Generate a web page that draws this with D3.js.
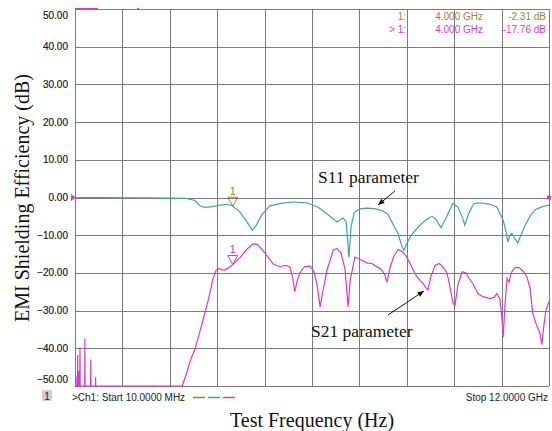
<!DOCTYPE html>
<html>
<head>
<meta charset="utf-8">
<script src="https://cdn.jsdelivr.net/npm/d3@7"></script>
<style>
  body { margin: 0; background: #fff; }
  text { font-family: "Liberation Sans", Arial, sans-serif; }
  .serif { font-family: "Liberation Serif", "Times New Roman", serif; }
</style>
</head>
<body>
<svg width="552" height="431"></svg>
<script>
// frequency in GHz, level in dB
var s11 = [
  [0.01, 0.0], [0.64, 0.0], [1.91, -0.1], [2.79, -0.2], [3.05, -0.8], [3.17, -2.2],
  [3.30, -2.6], [3.48, -2.4], [3.68, -2.0], [3.88, -1.8], [4.00, -2.31], [4.18, -3.8],
  [4.33, -6.0], [4.49, -8.6], [4.59, -7.5], [4.74, -4.5], [4.94, -2.2], [5.25, -1.5],
  [5.52, -1.2], [5.88, -1.4], [6.16, -2.6], [6.46, -5.0], [6.64, -6.5], [6.79, -5.4],
  [6.87, -6.5], [6.94, -16.0], [6.99, -8.0], [7.07, -4.0], [7.22, -3.0], [7.40, -2.8],
  [7.62, -3.0], [7.80, -3.6], [7.93, -4.5], [8.05, -7.0], [8.18, -9.5], [8.28, -13.0],
  [8.33, -14.0], [8.41, -12.0], [8.53, -9.8], [8.74, -7.3], [8.91, -5.8], [9.04, -5.0],
  [9.14, -5.8], [9.27, -8.0], [9.39, -5.5], [9.57, -1.5], [9.70, -2.6], [9.80, -5.0],
  [9.87, -7.3], [9.98, -4.0], [10.10, -1.6], [10.25, -1.4], [10.51, -1.8], [10.68, -2.5],
  [10.84, -6.0], [10.91, -9.0], [10.96, -11.8], [11.01, -10.0], [11.06, -9.5], [11.14, -11.0],
  [11.21, -12.0], [11.29, -10.0], [11.39, -7.5], [11.52, -5.0], [11.64, -3.3], [11.77, -2.7],
  [11.90, -2.2], [12.00, -2.0]
];

var s21 = [
  [0.01, -50], [0.030, -50], [0.035, -47.5], [0.040, -50], [0.073, -50], [0.078, -41.8],
  [0.083, -50], [0.105, -50], [0.11, -46], [0.115, -50], [0.131, -50], [0.136, -39.8],
  [0.141, -50], [0.255, -50], [0.26, -37.5], [0.265, -50], [0.405, -50], [0.41, -43],
  [0.415, -50], [0.525, -50], [0.53, -47.6], [0.535, -50],
  [2.72, -50], [2.82, -47], [2.92, -43.5], [3.05, -40], [3.17, -35.5], [3.30, -30.5],
  [3.42, -25.5], [3.50, -21.5], [3.58, -19.3], [3.65, -18.8], [3.78, -19.3], [3.88, -18.8],
  [4.00, -17.76], [4.18, -16.0], [4.35, -13.8], [4.51, -12.3], [4.63, -12.5], [4.76, -14.0],
  [4.89, -15.8], [5.04, -17.8], [5.19, -18.3], [5.35, -18.0], [5.45, -18.5], [5.52, -21.5],
  [5.57, -25.0], [5.62, -22.5], [5.70, -20.0], [5.82, -18.3], [5.95, -18.2], [6.05, -19.5],
  [6.13, -23.0], [6.21, -29.0], [6.26, -26.0], [6.38, -19.5], [6.54, -14.0], [6.64, -13.5],
  [6.74, -14.8], [6.84, -19.0], [6.92, -29.0], [6.97, -22.0], [7.09, -15.8], [7.24, -16.5],
  [7.40, -17.4], [7.52, -17.5], [7.65, -18.4], [7.75, -19.0], [7.85, -20.5], [7.90, -22.5],
  [7.98, -18.5], [8.08, -15.5], [8.18, -13.8], [8.31, -14.5], [8.38, -15.5], [8.48, -17.4],
  [8.58, -19.5], [8.66, -21.0], [8.74, -22.0], [8.81, -22.8], [8.89, -24.0], [8.94, -24.5],
  [9.01, -21.0], [9.12, -18.0], [9.22, -17.5], [9.32, -18.5], [9.42, -20.0], [9.50, -24.0],
  [9.57, -28.0], [9.62, -28.7], [9.70, -23.0], [9.80, -19.7], [9.90, -20.0], [9.98, -21.5],
  [10.08, -23.0], [10.20, -25.5], [10.33, -26.3], [10.51, -26.8], [10.61, -26.5], [10.68, -25.5],
  [10.76, -27.0], [10.81, -32.0], [10.84, -37.0], [10.89, -28.0], [10.94, -21.4], [10.99, -22.5],
  [11.04, -20.0], [11.14, -18.6], [11.24, -18.6], [11.34, -19.5], [11.44, -21.0], [11.52, -24.0],
  [11.59, -30.9], [11.69, -34.0], [11.77, -36.0], [11.82, -39.0], [11.87, -34.0], [11.92, -30.0],
  [12.00, -27.6]
];

// bits of the S21 trace clipped at the top of the screen
var s21Clipped = [[[0.01, 50], [0.59, 50]], [[1.58, 50], [1.63, 50]]];

var markerFreq = 4.0;
var markerRows = [
  {label: "1:", freq: "4.000 GHz", value: "-2.31 dB", level: -2.31},
  {label: "> 1:", freq: "4.000 GHz", value: "-17.76 dB", level: -17.76}
];
var startLabel = ">Ch1: Start  10.0000 MHz";
var stopLabel = "Stop  12.0000 GHz";

var teal = "#3fa899", magenta = "#d83acb", olive = "#9c8433", grid = "#7a7a7a";

var svg = d3.select("svg");

var x = d3.scaleLinear().domain([0.01, 12]).range([75, 549]),
    y = d3.scaleLinear().domain([-50, 50]).range([386, 9]);

var g = svg.append("g");

// grid
var xGrid = d3.range(11).map(function(k) { return 0.01 + k * (12 - 0.01) / 10; });
g.selectAll(".vg").data(xGrid).enter().append("line")
    .attr("x1", function(d) { return Math.round(x(d)) + 0.5; })
    .attr("x2", function(d) { return Math.round(x(d)) + 0.5; })
    .attr("y1", y(50)).attr("y2", y(-50))
    .style("stroke", grid).style("stroke-width", 1);

var yTicks = y.ticks(10);
g.selectAll(".hg").data(yTicks).enter().append("line")
    .attr("x1", x(0.01)).attr("x2", x(12))
    .attr("y1", function(d) { return Math.round(y(d)) + 0.5; })
    .attr("y2", function(d) { return Math.round(y(d)) + 0.5; })
    .style("stroke", grid).style("stroke-width", 1);

// y tick labels
g.selectAll(".yl").data(yTicks).enter().append("text")
    .attr("x", 68)
    .attr("y", function(d) {
      var p = y(d);
      if (d === 50) p += 6;
      if (d === -50) p -= 7;
      return p + 3.5;
    })
    .attr("text-anchor", "end")
    .style("font-size", "10px")
    .style("fill", "#1a1a1a")
    .style("stroke", "#1a1a1a").style("stroke-width", 0.2)
    .text(function(d) { return d3.format(".2f")(d); });

// traces
var line = d3.line()
    .x(function(d) { return x(d[0]); })
    .y(function(d) { return y(d[1]); });

g.append("path").attr("d", line(s11))
    .style("fill", "none").style("stroke", teal).style("stroke-width", 1.2);

g.append("path").attr("d", line(s21))
    .style("fill", "none").style("stroke", magenta).style("stroke-width", 1.2);

s21Clipped.forEach(function(seg) {
  g.append("path").attr("d", line(seg))
      .style("fill", "none").style("stroke", magenta).style("stroke-width", 2);
});

// markers on the traces
function marker(level, color) {
  var mx = x(markerFreq), my = y(level);
  g.append("path")
      .attr("d", "M" + (mx - 5) + "," + (my - 9) + "L" + (mx + 5) + "," + (my - 9) + "L" + mx + "," + my + "Z")
      .style("fill", "none").style("stroke", color).style("stroke-width", 1);
  g.append("text")
      .attr("x", mx).attr("y", my - 11)
      .attr("text-anchor", "middle")
      .style("font-size", "11px").style("fill", color)
      .text("1");
}
marker(markerRows[0].level, olive);
marker(markerRows[1].level, magenta);

// reference level markers
g.append("path")
    .attr("d", "M" + (x(0.01) - 4) + "," + (y(0) - 3.5) + "L" + (x(0.01) + 1) + "," + y(0) + "L" + (x(0.01) - 4) + "," + (y(0) + 3.5) + "Z")
    .style("fill", magenta);
g.append("rect")
    .attr("x", x(12) - 2).attr("y", y(0) - 2).attr("width", 4).attr("height", 4)
    .style("fill", magenta);

// marker readout
var rows = g.selectAll(".row").data(markerRows).enter().append("g")
    .attr("transform", function(d, i) { return "translate(0," + (20 + i * 13) + ")"; })
    .style("font-size", "10px")
    .style("fill", function(d, i) { return i === 0 ? olive : magenta; });
rows.append("text").attr("x", 406).attr("text-anchor", "end").text(function(d) { return d.label; });
rows.append("text").attr("x", 483).attr("text-anchor", "end").text(function(d) { return d.freq; });
rows.append("text").attr("x", 546).attr("text-anchor", "end").text(function(d) { return d.value; });

// bottom status line
svg.append("rect").attr("x", 42).attr("y", 390).attr("width", 10).attr("height", 11).style("fill", "#cfcfcf");
svg.append("text").attr("x", 47).attr("y", 399.5).attr("text-anchor", "middle")
    .style("font-size", "10px").style("fill", "#222").text("1");
svg.append("text").attr("x", 72).attr("y", 401)
    .style("font-size", "10px").style("fill", "#222").text(startLabel);
[olive, teal, magenta].forEach(function(c, i) {
  svg.append("line")
      .attr("x1", 193 + i * 15).attr("x2", 205 + i * 15)
      .attr("y1", 397.5).attr("y2", 397.5)
      .style("stroke", c).style("stroke-width", 1.5);
});
svg.append("text").attr("x", 548).attr("y", 401).attr("text-anchor", "end")
    .style("font-size", "10px").style("fill", "#222").text(stopLabel);

// annotations
function arrow(x1, y1, x2, y2) {
  svg.append("line").attr("x1", x1).attr("y1", y1).attr("x2", x2).attr("y2", y2)
      .style("stroke", "#111").style("stroke-width", 1);
  var a = Math.atan2(y2 - y1, x2 - x1), L = 7, w = 0.4;
  svg.append("path")
      .attr("d", "M" + x2 + "," + y2 +
        "L" + (x2 - L * Math.cos(a - w)) + "," + (y2 - L * Math.sin(a - w)) +
        "L" + (x2 - L * Math.cos(a + w)) + "," + (y2 - L * Math.sin(a + w)) + "Z")
      .style("fill", "#111");
}
svg.append("text").attr("class", "serif").attr("x", 318).attr("y", 183)
    .style("font-size", "17.5px").style("fill", "#111").text("S11 parameter");
arrow(395, 191, 378, 205);
svg.append("text").attr("class", "serif").attr("x", 311).attr("y", 337)
    .style("font-size", "17.5px").style("fill", "#111").text("S21 parameter");
arrow(388, 315, 424, 291);

// axis titles
svg.append("text").attr("class", "serif")
    .attr("transform", "translate(29,198) rotate(-90)")
    .attr("text-anchor", "middle")
    .style("font-size", "20px").style("fill", "#111")
    .text("EMI Shielding Efficiency (dB)");
svg.append("text").attr("class", "serif")
    .attr("x", 312).attr("y", 427)
    .attr("text-anchor", "middle")
    .style("font-size", "20px").style("fill", "#111")
    .text("Test Frequency (Hz)");
</script>
</body>
</html>
